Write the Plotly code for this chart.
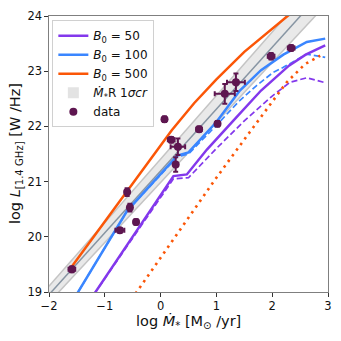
import plotly.graph_objects as go

# colours
C_B50 = '#8338ec'
C_B100 = '#3a86ff'
C_B500 = '#fb5607'
C_DATA = '#5e1650'

# observed points
data_x = [-1.59, -0.73, -0.60, -0.55, -0.44, 0.07, 0.19, 0.31, 0.27, 0.69, 1.02, 1.15, 1.35, 1.98, 2.34]
data_y = [19.41, 20.12, 20.81, 20.53, 20.27, 22.13, 21.76, 21.63, 21.31, 21.95, 22.05, 22.59, 22.80, 23.27, 23.42]
data_xerr = [0.06, 0.08, 0.03, 0.03, 0.04, 0.04, 0.06, 0.13, 0.03, 0.05, 0.04, 0.18, 0.16, 0.06, 0.06]
data_yerr = [0.05, 0.04, 0.07, 0.07, 0.05, 0.05, 0.05, 0.15, 0.13, 0.05, 0.05, 0.18, 0.16, 0.06, 0.05]

# M*-R relation with 1 sigma band
band_x = [-2.1, 0.0, 2.8]
band_mid = [18.84, 21.19, 24.33]
band_lo = [18.70, 20.98, 24.03]
band_hi = [18.99, 21.40, 24.63]

# model curves
b500_x = [-1.6, -1.0, -0.4, 0.2, 0.6, 1.0, 1.5, 2.0, 2.3, 2.6]
b500_y = [19.45, 20.28, 21.12, 21.93, 22.42, 22.85, 23.35, 23.78, 24.02, 24.25]
b500d_x = [-0.45, 0.17, 1.0, 1.6, 2.26, 2.59, 2.86]
b500d_y = [18.97, 19.87, 21.07, 21.90, 22.80, 23.13, 23.28]

b100_x = [-1.55, -0.6, 0.3, 0.5, 1.0, 1.42, 1.8, 2.2, 2.62, 2.95]
b100_y = [18.88, 20.47, 21.47, 21.53, 22.08, 22.65, 23.02, 23.30, 23.53, 23.59]
b100d_x = [-1.55, -0.6, 0.3, 0.5, 1.0, 1.4, 1.72, 2.02, 2.2, 2.62, 2.95]
b100d_y = [18.88, 20.47, 21.45, 21.50, 22.02, 22.45, 22.74, 22.98, 23.07, 23.31, 23.25]

b50_x = [-1.2, 0.23, 0.47, 0.83, 1.3, 1.8, 2.3, 2.6, 2.95]
b50_y = [18.95, 21.10, 21.13, 21.58, 22.10, 22.65, 23.10, 23.30, 23.47]
b50d_x = [-1.2, 0.23, 0.5, 1.0, 1.5, 2.0, 2.32, 2.62, 2.92]
b50d_y = [18.95, 21.05, 21.07, 21.60, 22.10, 22.55, 22.80, 22.88, 22.80]

fig = go.Figure()

# band
fig.add_trace(go.Scatter(
    x=band_x + band_x[::-1], y=band_hi + band_lo[::-1],
    fill='toself', fillcolor='rgba(215,215,215,0.55)', line=dict(width=0),
    mode='lines', showlegend=False, hoverinfo='skip'))
fig.add_trace(go.Scatter(x=band_x, y=band_hi, mode='lines', line=dict(color='#c4c4c4', width=1.5),
                         showlegend=False, hoverinfo='skip'))
fig.add_trace(go.Scatter(x=band_x, y=band_lo, mode='lines', line=dict(color='#c4c4c4', width=1.5),
                         showlegend=False, hoverinfo='skip'))
fig.add_trace(go.Scatter(x=band_x, y=band_mid, mode='lines', line=dict(color='#8795a3', width=1.5),
                         showlegend=False, hoverinfo='skip'))

# dashed / dotted variants
fig.add_trace(go.Scatter(x=b50d_x, y=b50d_y, mode='lines', line=dict(color=C_B50, width=1.7, dash='6px,3px'),
                         showlegend=False))
fig.add_trace(go.Scatter(x=b100d_x, y=b100d_y, mode='lines', line=dict(color=C_B100, width=1.7, dash='6px,3px'),
                         showlegend=False))
fig.add_trace(go.Scatter(x=b500d_x, y=b500d_y, mode='lines', line=dict(color=C_B500, width=2.6, dash='2.5px,4.5px'),
                         showlegend=False))

# solid curves
fig.add_trace(go.Scatter(x=b50_x, y=b50_y, mode='lines', line=dict(color=C_B50, width=2.5),
                         name='<i>B</i><sub>0</sub> = 50'))
fig.add_trace(go.Scatter(x=b100_x, y=b100_y, mode='lines', line=dict(color=C_B100, width=2.5),
                         name='<i>B</i><sub>0</sub> = 100'))
fig.add_trace(go.Scatter(x=b500_x, y=b500_y, mode='lines', line=dict(color=C_B500, width=2.5),
                         name='<i>B</i><sub>0</sub> = 500'))

# legend proxy for band
fig.add_trace(go.Scatter(x=[None], y=[None], mode='markers',
                         marker=dict(symbol='square', size=11, color='#e3e3e3'),
                         name='<i>M\u0307</i><sub>*</sub>R 1<i>\u03c3cr</i>'))

# data
fig.add_trace(go.Scatter(
    x=data_x, y=data_y, mode='markers', name='data',
    marker=dict(color=C_DATA, size=8),
    error_x=dict(type='data', array=data_xerr, color=C_DATA, thickness=2, width=2.5),
    error_y=dict(type='data', array=data_yerr, color=C_DATA, thickness=2, width=2.5)))

axis_common = dict(showline=True, linecolor='#7f7f7f', linewidth=1.2, mirror=True, automargin=False,
                   ticks='outside', ticklen=3.5, tickcolor='#333', showgrid=False, zeroline=False,
                   tickfont=dict(size=11.5, color='#111'))

fig.update_xaxes(range=[-2, 3], dtick=1, tick0=-2, **axis_common)
fig.update_yaxes(range=[19, 24], dtick=1, tick0=19, **axis_common)

# page body adds 8px offset; figure is sized to compensate
fig.update_layout(
    width=333, height=333,
    margin=dict(l=41, r=13, t=8, b=49),
    plot_bgcolor='white', paper_bgcolor='white',
    font=dict(family='DejaVu Sans', size=11, color='#111'),
    legend=dict(x=0.012, y=0.985, xanchor='left', yanchor='top',
                bgcolor='rgba(255,255,255,0.85)', bordercolor='#d0d0d0', borderwidth=1,
                font=dict(size=12), tracegroupgap=0, itemwidth=30),
    annotations=[
        dict(text='log <i>M\u0307</i><sub>*</sub> [M<sub>\u2299</sub> /yr]', xref='paper', yref='paper',
             x=0.5, y=-0.107, xanchor='center', yanchor='middle', showarrow=False,
             font=dict(size=14.5, color='#111')),
        dict(text='log <i>L</i><sub>[1.4 GHz]</sub> [W /Hz]', xref='paper', yref='paper',
             x=-0.118, y=0.5, xanchor='center', yanchor='middle', showarrow=False, textangle=-90,
             font=dict(size=14.5, color='#111')),
    ],
)

fig.write_html("out.html")
